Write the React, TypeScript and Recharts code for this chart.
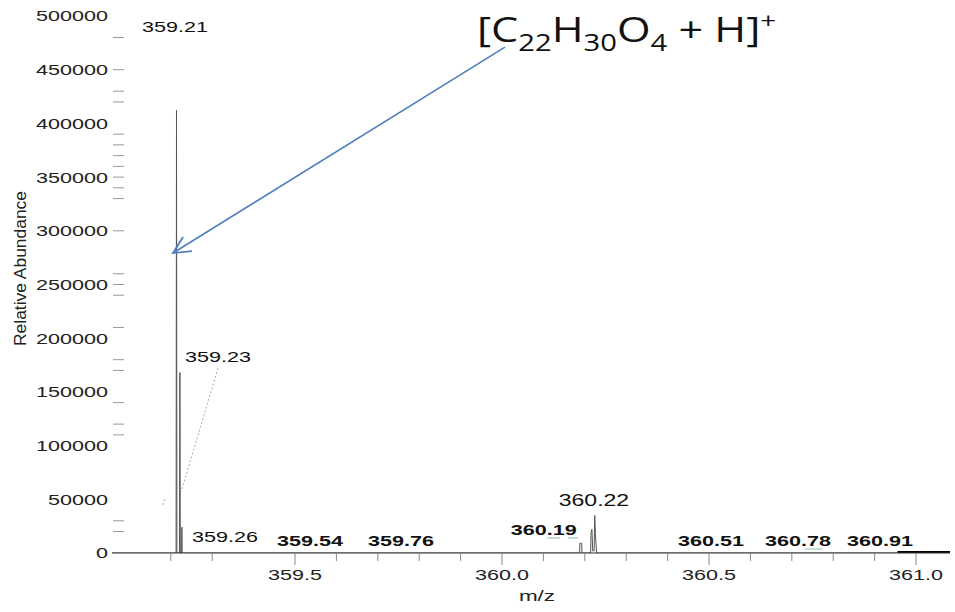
import React from 'react';
import { ComposedChart, Line, Scatter, XAxis, YAxis, ReferenceLine } from 'recharts';

// ---- data ----
const profileMz = [
  359.058, 359.2128, 359.2138, 359.2148, 359.221, 359.222, 359.223, 359.2262, 359.2268, 359.2274,
  360.1875, 360.188, 360.1925, 360.193, 360.214, 360.2152, 360.2172, 360.219, 360.2225, 360.224,
  360.2255, 360.2285, 361.082,
];
const profileIntensity = [
  0, 0, 412000, 0, 0, 168000, 0, 0, 24000, 0,
  0, 9000, 9000, 0, 0, 20000, 22000, 2000, 2000, 35000,
  18000, 0, 0,
];
const tailMz = [360.955, 361.082];
const tailIntensity = [900, 900];

const peakLabelText = ['359.21', '359.23', '359.26', '359.54', '359.76', '360.19', '360.22', '360.51', '360.78', '360.91'];
const peakLabelMz = [359.21, 359.314, 359.331, 359.536, 359.756, 360.101, 360.222, 360.505, 360.715, 360.913];
const peakLabelLevel = [485000, 178000, 10200, 6500, 6500, 16800, 43800, 6500, 6500, 6500];

const xTickValues = [
  359.2, 359.3, 359.5, 359.6, 359.7, 359.8, 359.9, 360.0, 360.1, 360.2, 360.3, 360.4,
  360.5, 360.6, 360.7, 360.8, 360.9, 361.0,
];
const xTickLabels = [359.5, 360.0, 360.5, 361.0];
const yTickLabels = [0, 50000, 100000, 150000, 200000, 250000, 300000, 350000, 400000, 450000, 500000];
const yMinorTicks = [
  20000, 30000, 110000, 120000, 140000, 170000, 180000, 210000, 240000, 250000, 260000, 300000,
  330000, 340000, 350000, 360000, 370000, 380000, 390000, 420000, 430000, 450000, 480000,
];

const formulaArrowFrom = { x: 360.0072, y: 471000 };
const formulaArrowTo = { x: 359.2053, y: 279300 };
const connector = [{ x: 359.314, y: 172000 }, { x: 359.225, y: 57000 }];
const connector2 = [{ x: 359.181, y: 44700 }, { x: 359.186, y: 52000 }];
const greenMarks = [
  [{ x: 360.109, y: 14000 }, { x: 360.14, y: 14000 }],
  [{ x: 360.159, y: 14000 }, { x: 360.184, y: 14000 }],
  [{ x: 360.732, y: 3700 }, { x: 360.773, y: 3700 }],
];

// ---- derived tables ----
const profileData = profileMz.map((mz, i) => ({ mz, intensity: profileIntensity[i] }));
const tailData = tailMz.map((mz, i) => ({ mz, intensity: tailIntensity[i] }));
const labelData = peakLabelText.map((text, i) => ({ mz: peakLabelMz[i], level: peakLabelLevel[i], text }));
const yTickAll = Array.from(new Set([...yTickLabels, ...yMinorTicks])).sort((a, b) => a - b);

const BOLD = new Set(['359.54', '359.76', '360.19', '360.51', '360.78', '360.91']);
const FONT = "'Liberation Sans', Arial, sans-serif";
const SX = 1.44;

function StretchText({ x, y, anchor = 'start', size = 15, weight = 'normal', sx = SX, fill = '#111', children }: any) {
  return (
    <g transform={`translate(${x},${y}) scale(${sx},1)`}>
      <text x={0} y={0} textAnchor={anchor} fontSize={size} fontWeight={weight} fontFamily={FONT} fill={fill}>
        {children}
      </text>
    </g>
  );
}

const near = (arr: number[], v: number) => arr.some((a) => Math.abs(a - v) < 1e-6);

function XTick(props: any) {
  const { x, y, payload } = props;
  const v = payload.value;
  const lab = near(xTickLabels, v);
  return (
    <g>
      <line x1={x} x2={x} y1={y} y2={y + (lab ? 12 : 8)} stroke="#888" strokeWidth={1} />
      {lab && (
        <StretchText x={x} y={y + 27} anchor="middle" size={15} fill="#222">
          {v.toFixed(1)}
        </StretchText>
      )}
    </g>
  );
}

function YTick(props: any) {
  const { x, y, payload } = props;
  const v = payload.value;
  const lab = near(yTickLabels, v);
  const minor = near(yMinorTicks, v);
  return (
    <g>
      {minor && <line x1={x + 1} x2={x + 12} y1={y} y2={y} stroke="#999" strokeWidth={1} />}
      {lab && (
        <StretchText x={x - 4} y={y + 5.4} anchor="end" size={15} fill="#222">
          {String(v)}
        </StretchText>
      )}
    </g>
  );
}

function PeakLabel(props: any) {
  const { cx, cy, payload } = props;
  if (cx == null || cy == null) return null;
  const t = payload.text;
  const big = t === '360.22';
  return (
    <StretchText x={cx} y={cy} anchor="middle" size={big ? 16 : 15} weight={BOLD.has(t) ? 'bold' : 'normal'}>
      {t}
    </StretchText>
  );
}

function ArrowShape(props: any) {
  const { x1, y1, x2, y2 } = props;
  if ([x1, y1, x2, y2].some((v) => v == null || isNaN(v))) return null;
  const dx = x1 - x2;
  const dy = y1 - y2;
  const len = Math.hypot(dx, dy);
  const ux = dx / len;
  const uy = dy / len;
  const arm = 19;
  const a = (26 * Math.PI) / 180;
  const r = (c: number, s: number) => [x2 + arm * (ux * c - uy * s), y2 + arm * (ux * s + uy * c)];
  const [ax, ay] = r(Math.cos(a), Math.sin(a));
  const [bx, by] = r(Math.cos(-a), Math.sin(-a));
  const blue = '#4f7fbd';
  return (
    <g>
      <line x1={x1} y1={y1} x2={x2} y2={y2} stroke={blue} strokeWidth={1.6} />
      <polyline points={`${ax},${ay} ${x2},${y2} ${bx},${by}`} fill="none" stroke={blue} strokeWidth={1.8} />
      <g transform={`translate(${x1 - 28},${y1 - 5}) scale(1.27,1)`}>
        <text x={0} y={0} fontFamily="'Open Sans', 'Noto Sans', sans-serif" fontSize={34} fill="#111">
          [C
          <tspan fontSize={23} dy={9}>22</tspan>
          <tspan dy={-9}>H</tspan>
          <tspan fontSize={23} dy={9}>30</tspan>
          <tspan dy={-9}>O</tspan>
          <tspan fontSize={23} dy={9}>4</tspan>
          <tspan dy={-9}>{' + H]'}</tspan>
          <tspan fontSize={22} dy={-14}>+</tspan>
        </text>
      </g>
    </g>
  );
}

const yTitle = (p: any) => {
  const vb = p.viewBox || { x: 0, y: 16, width: 112, height: 537 };
  const cx = vb.x + 20;
  const cy = vb.y + vb.height / 2 - 16;
  return (
    <text
      transform={`translate(${cx},${cy}) rotate(-90)`}
      textAnchor="middle"
      dominantBaseline="central"
      fontSize={16}
      fontFamily={FONT}
      fill="#222"
      textLength={155}
      lengthAdjust="spacingAndGlyphs"
    >
      Relative Abundance
    </text>
  );
};

const xTitle = (p: any) => {
  const vb = p.viewBox || { x: 112, y: 553, width: 838, height: 59 };
  return (
    <StretchText x={vb.x + vb.width / 2 + 6} y={vb.y + 48} anchor="middle" size={15} sx={1.5} fill="#222">
      m/z
    </StretchText>
  );
};

export default function App() {
  return (
    <div style={{ position: 'absolute', left: 0, top: 0, width: 955, height: 612, background: '#fff' }}>
      <ComposedChart width={955} height={612} margin={{ top: 16, right: 5, bottom: 0, left: 0 }}>
        <XAxis
          dataKey="mz"
          type="number"
          domain={[359.058, 361.082]}
          allowDataOverflow
          ticks={xTickValues}
          interval={0}
          tick={<XTick />}
          tickLine={false}
          tickSize={0}
          tickMargin={0}
          axisLine={{ stroke: '#333', strokeWidth: 1 }}
          height={59}
          label={xTitle}
        />
        <YAxis
          type="number"
          domain={[0, 500000]}
          allowDataOverflow
          ticks={yTickAll}
          interval={0}
          tick={<YTick />}
          tickLine={false}
          tickSize={0}
          tickMargin={0}
          axisLine={false}
          width={112}
          label={yTitle}
        />
        <Line
          data={profileData}
          dataKey="intensity"
          type="linear"
          stroke="#555"
          strokeWidth={1}
          dot={false}
          activeDot={false}
          isAnimationActive={false}
        />
        <Line
          data={tailData}
          dataKey="intensity"
          type="linear"
          stroke="#000"
          strokeWidth={2}
          dot={false}
          activeDot={false}
          isAnimationActive={false}
        />
        <ReferenceLine segment={connector} stroke="#aaa" strokeDasharray="2 2" strokeWidth={1} />
        <ReferenceLine segment={connector2} stroke="#aaa" strokeDasharray="2 2" strokeWidth={1} />
        {greenMarks.map((s, i) => (
          <ReferenceLine key={i} segment={s} stroke="#8cc0a0" strokeWidth={1} />
        ))}
        <ReferenceLine segment={[formulaArrowFrom, formulaArrowTo]} shape={ArrowShape} />
        <Scatter data={labelData} dataKey="level" shape={PeakLabel} isAnimationActive={false} />
      </ComposedChart>
    </div>
  );
}
